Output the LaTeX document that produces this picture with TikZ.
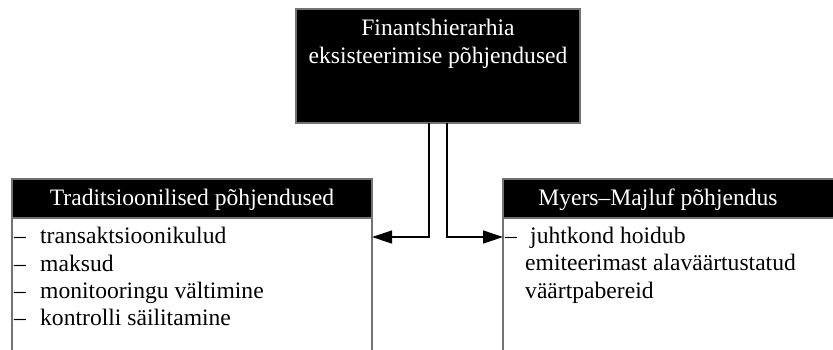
\documentclass[tikz,border=0pt]{standalone}
\usepackage{fontspec}
\setmainfont{Liberation Serif}
\usetikzlibrary{arrows.meta}
\begin{document}
\begin{tikzpicture}[x=1bp,y=-1bp,
  boxline/.style={draw=black!55,line width=1.3bp},
  darkbox/.style={boxline,fill=black,inner sep=0pt,outer sep=0pt},
  bodybox/.style={boxline,fill=white,inner sep=0pt,outer sep=0pt},
  lighttext/.style={text=white,font=\fontsize{23.6bp}{28bp}\selectfont,inner sep=0pt},
  itemtext/.style={text=black,font=\fontsize{23.6bp}{27bp}\selectfont,inner sep=0pt,anchor=base west},
  link/.style={draw=black,line width=1.3bp,-{Triangle[length=20bp,width=13bp]}}]
\useasboundingbox (0,0) rectangle (833,349);
\clip (0,0) rectangle (833,349);

% top box
\node[darkbox,minimum width=284bp,minimum height=114bp] (top) at (438,66) {};
\node[lighttext,anchor=base] (t1) at (438,35) {Finantshierarhia};
\node[lighttext,anchor=base] (t2) at (438,63) {eksisteerimise põhjendused};

% left box
\node[bodybox,minimum width=360bp,minimum height=150bp,anchor=north west] (lbody) at (12,218) {};
\node[darkbox,minimum width=360bp,minimum height=39bp,anchor=north west] (lhead) at (12,179) {};
\node[lighttext,anchor=base] (lt) at (192,205) {Traditsioonilised põhjendused};
\node[itemtext] (l1) at (14,243) {\makebox[26bp][l]{–}transaktsioonikulud};
\node[itemtext] (l2) at (14,271) {\makebox[26bp][l]{–}maksud};
\node[itemtext] (l3) at (14,298) {\makebox[26bp][l]{–}monitooringu vältimine};
\node[itemtext] (l4) at (14,325) {\makebox[26bp][l]{–}kontrolli säilitamine};

% right box
\node[bodybox,minimum width=360bp,minimum height=150bp,anchor=north west] (rbody) at (503,218) {};
\node[darkbox,minimum width=360bp,minimum height=39bp,anchor=north west] (rhead) at (503,179) {};
\node[lighttext,anchor=base] (rt) at (658,205) {Myers–Majluf põhjendus};
\node[itemtext] (r1) at (505,243) {\makebox[25bp][l]{–}juhtkond hoidub};
\node[itemtext] (r2) at (525,270) {emiteerimast alaväärtustatud};
\node[itemtext] (r3) at (525,298) {väärtpabereid};

% connectors
\draw[link] ([xshift=-9bp]top.south) |- ([yshift=-19bp]lbody.north east);
\draw[link] ([xshift=9bp]top.south) |- ([yshift=-19bp]rbody.north west);
\end{tikzpicture}
\end{document}
